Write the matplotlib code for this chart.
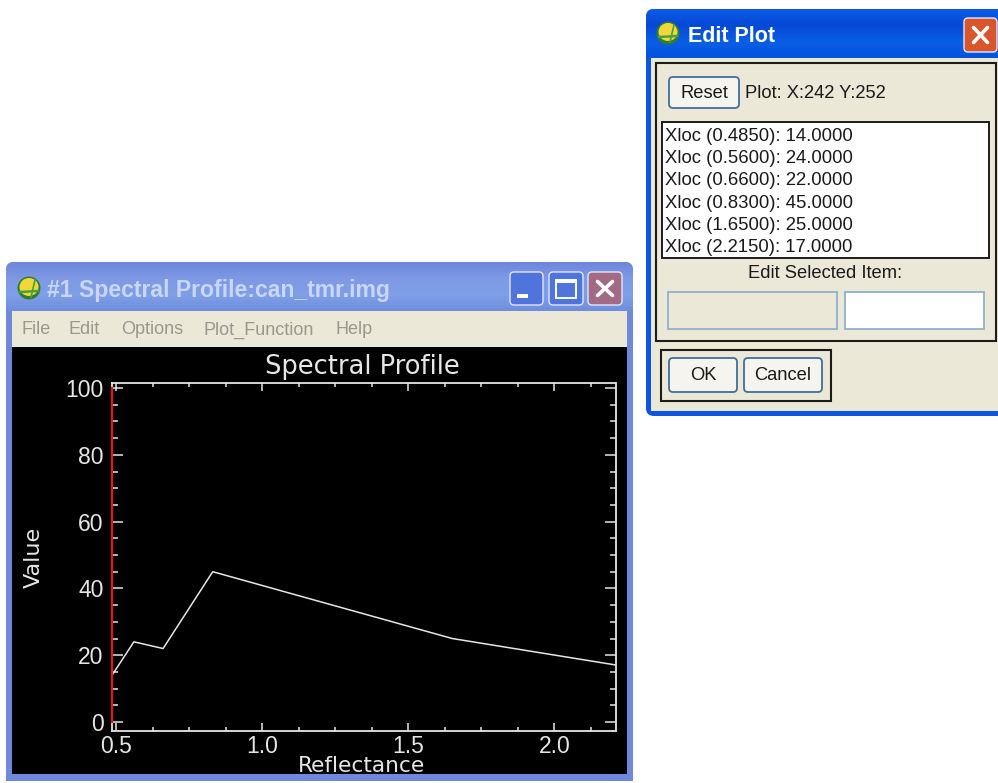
import numpy as np
import matplotlib
matplotlib.use("Agg")
import matplotlib.pyplot as plt
from matplotlib.patches import FancyBboxPatch, Rectangle, Ellipse
from matplotlib.ticker import FixedLocator, FixedFormatter

# ---- data
wavelengths = [0.485, 0.56, 0.66, 0.83, 1.65, 2.215]
values = [14.0, 24.0, 22.0, 45.0, 25.0, 17.0]
cursor_x = [0.485, 0.485]
cursor_y = [0, 100]
x_major = [0.5, 1.0, 1.5, 2.0]
x_labels = ["0.5", "1.0", "1.5", "2.0"]
y_major = [0, 20, 40, 60, 80, 100]
y_labels = ["0", "20", "40", "60", "80", "100"]
menu_items = ["File", "Edit", "Options", "Plot_Function", "Help"]
menu_x = [22, 69, 121, 204, 336]

W, H = 998, 783
SANS = ["Liberation Sans", "DejaVu Sans"]
fig = plt.figure(figsize=(W / 100, H / 100), dpi=100, facecolor="white")
bg = fig.add_axes([0, 0, 1, 1])
bg.set_xlim(0, W)
bg.set_ylim(H, 0)
bg.axis("off")


def box(x0, y0, x1, y1, fc, ec="none", lw=0, r=0, z=1):
    if r:
        p = FancyBboxPatch((x0 + r, y0 + r), x1 - x0 - 2 * r, y1 - y0 - 2 * r,
                           boxstyle=f"round,pad={r},rounding_size={r}",
                           fc=fc, ec=ec, lw=lw, zorder=z)
    else:
        p = Rectangle((x0, y0), x1 - x0, y1 - y0, fc=fc, ec=ec, lw=lw, zorder=z)
    bg.add_patch(p)
    return p


def grad(x0, y0, x1, y1, stops, clip=None, z=2):
    g = np.array([matplotlib.colors.to_rgb(c) for c in stops])
    t = np.linspace(0, 1, 64)
    s = np.linspace(0, 1, len(stops))
    img = np.stack([np.interp(t, s, g[:, i]) for i in range(3)], 1)[:, None, :]
    im = bg.imshow(img, extent=(x0, x1, y1, y0), aspect="auto", zorder=z, interpolation="bilinear")
    if clip is not None:
        im.set_clip_path(clip)
    bg.set_xlim(0, W)
    bg.set_ylim(H, 0)
    return im


def icon(cx, cy):
    bg.add_patch(Ellipse((cx, cy), 23, 23, fc="#2e7d32", ec="none", zorder=5))
    bg.add_patch(Ellipse((cx, cy - 1), 19, 18, fc="#f0d83a", ec="none", zorder=6))
    bg.plot([cx - 9, cx + 9], [cy + 4, cy + 3], color="#4aa040", lw=1.8, zorder=7)
    bg.plot([cx + 6, cx + 2], [cy - 8, cy + 9], color="#4aa040", lw=1.2, zorder=7)


def xbtn(x0, y0, x1, y1, fc, ec="#dfe7fb"):
    box(x0, y0, x1, y1, fc, ec=ec, lw=1, r=4, z=5)
    m = 9.5
    for a, b in (((x0 + m, x1 - m), (y0 + m, y1 - m)), ((x0 + m, x1 - m), (y1 - m, y0 + m))):
        bg.plot(a, b, color="white", lw=2.6, zorder=6, solid_capstyle="round")


# ---- left window
frame = box(6, 262, 633, 800, "#7088da", r=8, z=1)
grad(6, 262, 633, 312, ["#6f86dc", "#7e9ae4", "#7f9fe8", "#6f8cdc"], clip=frame)
box(12, 311, 627, 347, "#ebe8d8", z=3)
box(12, 347, 627, 774, "#000000", z=3)
box(0, 781, 640, 783, "white", z=4)
icon(29, 288)
bg.text(47, 291, "#1 Spectral Profile:can_tmr.img", color="#c9d6f6", fontsize=16.6,
        fontweight="bold", family=SANS, va="center", zorder=6)
for lbl, mx in zip(menu_items, menu_x):
    bg.text(mx, 328, lbl, color="#98988f", fontsize=13, family=SANS, va="center_baseline", zorder=6)
box(510, 272, 543, 305, "#4f74dc", ec="#dfe7fb", lw=1, r=4, z=5)
box(517, 294, 528, 298, "white", z=6)
box(549, 272, 583, 305, "#4f74dc", ec="#dfe7fb", lw=1, r=4, z=5)
box(556, 280, 576, 298, "none", ec="white", lw=1.4, z=6)
box(556, 280, 576, 283, "white", z=6)
xbtn(588, 272, 622, 305, "#a36a86")

# ---- right window
frame2 = box(646, 9, 1010, 416, "#0b55e0", r=8, z=1)
grad(646, 9, 1010, 58, ["#0a5be8", "#0648d6", "#0a5fe6", "#0552dc"], clip=frame2)
box(651, 58, 998, 411, "#ebe8d8", z=3)
icon(668, 33)
bg.text(688, 36, "Edit Plot", color="white", fontsize=15.5, fontweight="bold",
        family=SANS, va="center", zorder=6)
xbtn(964, 18, 997, 52, "#d9552c")
box(656.5, 63, 996, 341, "none", ec="#1c1c1c", lw=1.5, z=4)
box(661, 350, 831, 400.5, "none", ec="#1c1c1c", lw=1.5, z=4)
for x0, y0, x1, y1, t, tx in ((669, 77, 739, 108, "Reset", 704),
                              (669, 358, 737, 392, "OK", 703),
                              (744, 358, 822, 392, "Cancel", 783)):
    box(x0, y0, x1, y1, "#f5f4ee", ec="#3f6f9c", lw=1.3, r=4, z=5)
    bg.text(tx, (y0 + y1) / 2 + 0.5, t, color="#1a1a1a", fontsize=13.2, family=SANS,
            ha="center", va="center", zorder=6)
bg.text(745, 93, "Plot: X:242 Y:252", color="#1a1a1a", fontsize=13.2, family=SANS, va="center", zorder=6)
box(662.5, 122, 989, 258, "white", ec="#1c1c1c", lw=1.4, z=4)
for i, (w, v) in enumerate(zip(wavelengths, values)):
    bg.text(665, 134.5 + i * 22.2, f"Xloc ({w:.4f}): {v:.4f}", color="#1a1a1a", fontsize=13.3,
            family=SANS, va="center_baseline", zorder=6)
bg.text(825, 273, "Edit Selected Item:", color="#1a1a1a", fontsize=13.2, family=SANS,
        ha="center", va="center", zorder=6)
box(668, 292, 837, 329, "#ebe8d8", ec="#8fb0cf", lw=1.3, z=4)
box(845, 292, 984, 329, "white", ec="#8fb0cf", lw=1.3, z=4)

# ---- plot
L, R, T, B = 112, 615.5, 383, 731
ax = fig.add_axes([L / W, 1 - B / H, (R - L) / W, (B - T) / H], facecolor="black", zorder=5)
ax.set_xlim(0.485, 0.485 + (R - L) / 292.0)
ax.set_ylim(-(B - 722) / 3.34, 100 + 5 / 3.34)
fg = "#e6e6e6"
ax.plot(wavelengths, values, color=fg, lw=1.1, clip_on=True)
ax.plot(cursor_x, cursor_y, color="#f01010", lw=1.5, clip_on=False, zorder=4)
for s in ax.spines.values():
    s.set_color(fg)
    s.set_linewidth(1.3)
ax.xaxis.set_major_locator(FixedLocator(x_major))
ax.xaxis.set_major_formatter(FixedFormatter(x_labels))
ax.yaxis.set_major_locator(FixedLocator(y_major))
ax.yaxis.set_major_formatter(FixedFormatter(y_labels))
ax.xaxis.set_minor_locator(FixedLocator(np.arange(0.5, 2.3, 0.125)))
ax.yaxis.set_minor_locator(FixedLocator(np.arange(0, 101, 5)))
ax.tick_params(axis="x", which="major", direction="in", length=6, width=1.1, color=fg, top=True,
               labelcolor=fg, labelsize=16.5, pad=3)
ax.tick_params(axis="x", which="minor", direction="in", length=3, width=1.1, color=fg, top=True)
ax.tick_params(axis="y", which="major", direction="in", length=8, width=1.1, color=fg, right=True,
               labelcolor=fg, labelsize=16.5, pad=6)
ax.tick_params(axis="y", which="minor", direction="in", length=4, width=1.1, color=fg, right=True)
for t in ax.get_xticklabels() + ax.get_yticklabels():
    t.set_family(SANS)
bg.text(362, 367, "Spectral Profile", color=fg, fontsize=18.5, family=["DejaVu Sans"],
        ha="center", va="center", zorder=6)
bg.text(362, 766, "Reflectance", color=fg, fontsize=15.6, family=["DejaVu Sans"],
        ha="center", va="center", zorder=6)
bg.text(34, 557, "Value", color=fg, fontsize=16, family=["DejaVu Sans"], rotation=90,
        ha="center", va="center", zorder=6)

fig.savefig("out.png", dpi=100, facecolor="white")
